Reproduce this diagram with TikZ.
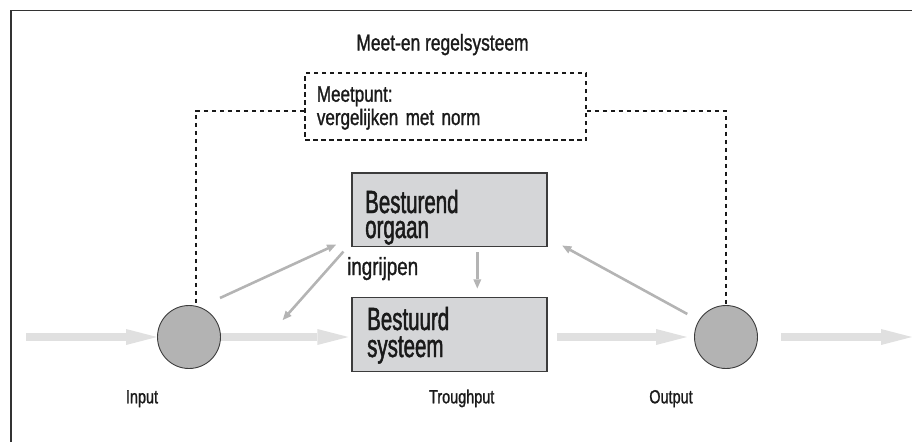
\documentclass[tikz,border=0pt]{standalone}
\usepackage{fontspec}
\usepackage{xcolor}
\usepackage{tikz}
\usetikzlibrary{arrows.meta,positioning,calc}
\newfontfamily\condA{Liberation Sans}[FakeStretch=0.64, FakeBold=1.5]
\newfontfamily\condB{Liberation Sans}[FakeStretch=0.76, FakeBold=1.2]
\definecolor{FlowGray}{HTML}{E0E0E0}
\definecolor{CtrlGray}{HTML}{B4B4B4}
\definecolor{NodeGray}{HTML}{B3B3B3}
\definecolor{BoxGray}{HTML}{D5D6D8}
\definecolor{EdgeGray}{HTML}{3C3C3C}
\definecolor{InkBlack}{HTML}{1A1A1A}

\begin{document}
\begin{tikzpicture}[
    x=1pt, y=-1pt, % 以像素坐标排布，y 轴向下
    frame/.style={line width=1.6pt, draw=black!80},
    unit/.style={draw=EdgeGray, line width=1.2pt, fill=BoxGray, minimum width=195pt, minimum height=73.5pt, inner sep=0pt},
    meetbox/.style={draw=InkBlack, line width=1.8pt, dash pattern=on 4.5pt off 3.5pt, minimum width=281pt, minimum height=67pt, inner sep=0pt},
    point/.style={circle, draw=EdgeGray, line width=0.9pt, fill=NodeGray, minimum size=63pt, inner sep=0pt},
    unittxt/.style={font=\condA\fontsize{32}{25}\selectfont, text=InkBlack, text width=170pt, align=left, inner sep=0pt, anchor=base west},
    smalltxt/.style={font=\condB\fontsize{19}{20}\selectfont, text=InkBlack, inner sep=0pt, anchor=base},
    flow/.style={-{Triangle[length=31pt, width=16pt, line width=0pt]}, line width=7.5pt, draw=FlowGray},
    ctrl/.style={-{Triangle[length=9pt, width=8pt, line width=0pt]}, line width=2.6pt, draw=CtrlGray},
    meas/.style={line width=1.8pt, draw=InkBlack, dash pattern=on 4.5pt off 3.5pt}
]
\useasboundingbox (0,0) rectangle (912,442);
\draw[frame] (11,442) -- (11,10.5) -- (912,10.5);

% 标题与测量框
\node[font=\condB\fontsize{22.9}{26}\selectfont, text=InkBlack, inner sep=0pt, anchor=base] (title) at (442.5,50.5) {Meet-en regelsysteem};
\node[meetbox] (norm) at (445.5,106.5) {};
\node[font=\condB\fontsize{22.4}{23.3}\selectfont, text=InkBlack, text width=250pt, align=left, inner sep=0pt, anchor=base west] (normtxt) at (316.7,101.7) {Meetpunt:\\vergelijken met norm};

% 两个方框
\node[unit] (org) at (449.5,209.75) {};
\node[unittxt] (orgtxt) at (365,213) {Besturend\\orgaan};
\node[unit] (sys) at (449.5,334.5) {};
\node[unittxt, font=\condA\fontsize{32}{27}\selectfont] (systxt) at (367,330) {Bestuurd\\systeem};

% 输入、输出点
\node[point] (in) at (189,337) {};
\node[point] (out) at (726,337) {};
\coordinate (src) at (26,337);
\coordinate (dst) at (912,337);

% 主流向
\draw[flow] (src) -- (in);
\draw[flow, shorten >=3pt] (in) -- (in -| sys.west);
\draw[flow, shorten <=9pt, shorten >=7pt] (out -| sys.east) -- (out);
\draw[flow, shorten <=23pt] (out) -- (dst);

% 控制回路
\draw[ctrl] ([shift={(31,-39)}]in.center) -- ([shift={(-15.3,-2.5)}]org.south west);
\draw[ctrl] ([shift={(-8,4.5)}]org.south west) -- ([shift={(93.7,-17)}]in.center);
\draw[ctrl] ([shift={(27.8,5.2)}]org.south) -- ([shift={(27.8,-8.7)}]sys.north);
\draw[ctrl] ([shift={(-38.7,-23)}]out.center) -- ([shift={(14.7,-1.5)}]org.south east);
\node[font=\condB\fontsize{24.7}{26}\selectfont, text=InkBlack, inner sep=0pt, anchor=base west] (ingr) at (347,275) {ingrijpen};

% 测量连线（虚线）
\draw[meas] ([yshift=-4.5pt]norm.west) -| ([xshift=7pt]in.north);
\draw[meas] ([yshift=-4.5pt]norm.east) -| (out.north);

% 下方标签
\node[smalltxt] (inlbl) at (142,403.3) {Input};
\node[smalltxt] (thrlbl) at (461.7,403.3) {Troughput};
\node[smalltxt] (outlbl) at (671,403.3) {Output};

\end{tikzpicture}
\end{document}
